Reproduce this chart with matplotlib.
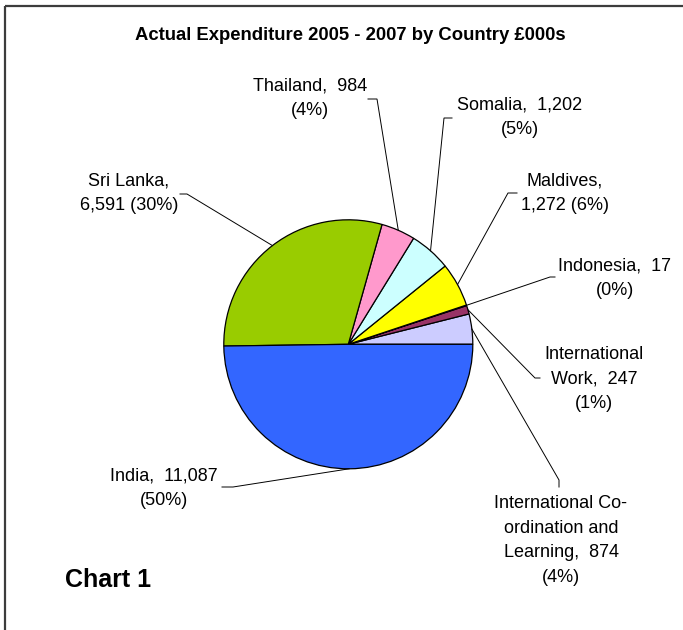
import numpy as np
import matplotlib
matplotlib.use("Agg")
import matplotlib.pyplot as plt

plt.rcParams['font.family'] = ['Liberation Sans', 'DejaVu Sans']

# Data (counter-clockwise from 3 o'clock)
categories = ["International Co-\nordination and\nLearning", "International\nWork", "Indonesia",
              "Maldives", "Somalia", "Thailand", "Sri Lanka", "India"]
values = [874, 247, 17, 1272, 1202, 984, 6591, 11087]
percents = ["4%", "1%", "0%", "6%", "5%", "4%", "30%", "50%"]
label_texts = [
    "International Co-\nordination and\nLearning,  874\n(4%)",
    "International\nWork,  247\n(1%)",
    "Indonesia,  17\n(0%)",
    "Maldives,\n1,272 (6%)",
    "Somalia,  1,202\n(5%)",
    "Thailand,  984\n(4%)",
    "Sri Lanka,\n6,591 (30%)",
    "India,  11,087\n(50%)",
]
colors = ["#CCCCFF", "#993366", "#800000", "#FFFF00", "#CCFFFF", "#FF99CC", "#99CC00", "#3366FF"]

W, H = 683, 630
# layout (pixel coords, y from top)
center_px = (348.3, 344.3)
radius = 124.5
label_pos = [(561, 540.5), (594, 379), (615, 278.5), (565, 193), (520, 117),
             (310, 98.5), (129, 193), (164, 488.5)]
elbows = [(559, 480), (535, 378), (550, 277), (508, 193), (444, 118),
          (377, 99), (187, 194), (233, 487)]
tails = [(559, 487), (540, 378), (555, 277), (517, 193), (452, 118),
         (368, 99), (180, 194), (222, 487)]

fig = plt.figure(figsize=(W / 100, H / 100), dpi=100)
ax = fig.add_axes([0, 0, 1, 1])
cx, cy = center_px[0], H - center_px[1]
wedges, _ = ax.pie(values, colors=colors, startangle=0, counterclock=True,
                   center=(cx, cy), radius=radius,
                   wedgeprops=dict(edgecolor="black", linewidth=0.9))
ax.set_xlim(0, W)
ax.set_ylim(0, H)
ax.set_aspect('equal')
ax.axis('off')

for w, txt, lp, el, tl in zip(wedges, label_texts, label_pos, elbows, tails):
    mid = np.deg2rad((w.theta1 + w.theta2) / 2)
    ex = cx + radius * np.cos(mid)
    ey = cy + radius * np.sin(mid)
    ax.plot([ex, el[0], tl[0]], [ey, H - el[1], H - tl[1]], color="black", lw=0.7,
            solid_joinstyle="miter")
    ax.text(lp[0], H - lp[1], txt, ha="center", va="center", multialignment="center",
            fontsize=13, linespacing=1.6, color="black")

ax.text(350, H - 36, "Actual Expenditure 2005 - 2007 by Country £000s", ha="center",
        va="center", fontsize=13.3, fontweight="bold")
ax.text(65, H - 580, "Chart 1", ha="left", va="center", fontsize=18, fontweight="bold")

# partial frame (top and left)
ax.plot([5, W], [H - 5.5, H - 5.5], color="#3c3c3c", lw=1.6, solid_capstyle="butt")
ax.plot([5, 5], [H - 5.5, 0], color="#3c3c3c", lw=1.6, solid_capstyle="butt")

fig.savefig("out.png", dpi=100)
